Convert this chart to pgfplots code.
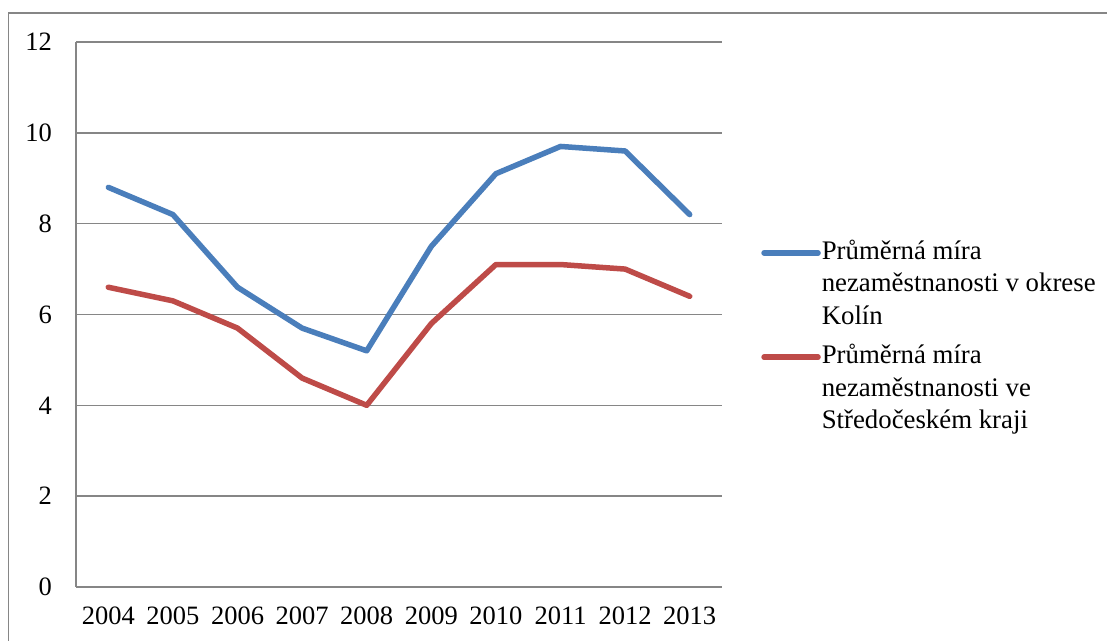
\documentclass[border=0pt]{standalone}
\usepackage{fontspec}
\setmainfont{Liberation Serif}
\usepackage{pgfplots}
\pgfplotsset{compat=1.18}
\definecolor{kolin}{HTML}{4A7EBB}
\definecolor{kraj}{HTML}{BE4B48}
\definecolor{gridgray}{HTML}{868686}

\begin{document}
\fontsize{26bp}{32.5bp}\selectfont
\begin{tikzpicture}[x=1bp,y=1bp]
\useasboundingbox (0,0) rectangle (1107,641);
% chart frame (only its left and top edges fall on the page)
\draw[gridgray, line width=1.5bp] (8.5,-5) -- (8.5,628) -- (1115,628);
\begin{axis}[
  at={(76bp,54bp)}, anchor=south west,
  scale only axis, width=646bp, height=545bp,
  xmin=-0.5, xmax=9.5, ymin=0, ymax=12,
  xtick={0,1,2,3,4,5,6,7,8,9},
  xticklabels={2004,2005,2006,2007,2008,2009,2010,2011,2012,2013},
  ytick={0,2,4,6,8,10,12},
  axis x line*=bottom, axis y line*=left,
  axis line style={gridgray, line width=1.5bp},
  ymajorgrids, grid style={gridgray, line width=1.5bp},
  major tick length=0pt,
  /pgf/number format/assume math mode=true,
  tick label style={font=\fontsize{26.5bp}{32.5bp}\selectfont, inner sep=0pt},
  yticklabel style={anchor=east, xshift=-24bp},
  xticklabel style={anchor=north, yshift=-20bp},
  legend style={draw=none, fill=none, at={(1.0605,0.637)}, anchor=north west,
    inner sep=0pt, row sep=16bp, column sep=0pt,
    cells={anchor=base west},
    nodes={align=left, inner sep=0pt, inner xsep=1bp,
      font=\fontsize{26.8bp}{32.5bp}\selectfont}},
  % the key line sits beside the first line of its three-line entry
  legend image code/.code={\draw[#1] (3bp,71.5bp) -- (57bp,71.5bp);},
]
\addplot[kolin, line width=5.5bp, line join=round, line cap=round]
  coordinates {(0,8.8) (1,8.2) (2,6.6) (3,5.7) (4,5.2) (5,7.5) (6,9.1) (7,9.7) (8,9.6) (9,8.2)};
\addlegendentry{Průměrná míra\\nezaměstnanosti v okrese\\Kolín}
\addplot[kraj, line width=5.5bp, line join=round, line cap=round]
  coordinates {(0,6.6) (1,6.3) (2,5.7) (3,4.6) (4,4.0) (5,5.8) (6,7.1) (7,7.1) (8,7.0) (9,6.4)};
\addlegendentry{Průměrná míra\\nezaměstnanosti ve\\Středočeském kraji}
\end{axis}
\end{tikzpicture}
\end{document}
